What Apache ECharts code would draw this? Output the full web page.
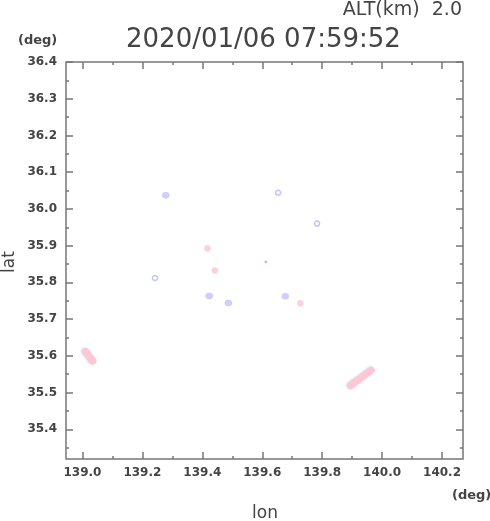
<!DOCTYPE html>
<html><head><meta charset="utf-8">
<script src="https://cdn.jsdelivr.net/npm/echarts@6/dist/echarts.min.js"></script>
<style>html,body{margin:0;padding:0;background:#fff}#c{width:490px;height:521px}</style>
</head><body><div id="c"></div>
<script>
const xTicks = [139.0, 139.2, 139.4, 139.6, 139.8, 140.0, 140.2];
const xMinor = [139.1, 139.3, 139.5, 139.7, 139.9, 140.1];
const yTicks = [35.4, 35.5, 35.6, 35.7, 35.8, 35.9, 36.0, 36.1, 36.2, 36.3, 36.4];
const yMinor = [35.35, 35.45, 35.55, 35.65, 35.75, 35.85, 35.95, 36.05, 36.15, 36.25, 36.35];
// solid blue cells
const blueLon = [139.278, 139.423, 139.487, 139.677];
const blueLat = [36.037, 35.763, 35.744, 35.762];
// hollow blue cells
const ringLon = [139.653, 139.783, 139.242];
const ringLat = [36.044, 35.960, 35.812];
// pink cells
const pinkLon = [139.417, 139.442, 139.727];
const pinkLat = [35.892, 35.832, 35.743];
// elongated pink band (west)
const bandWLon = [139.011, 139.020, 139.030, 139.035];
const bandWLat = [35.612, 35.602, 35.591, 35.586];
// elongated pink band (south-east)
const bandELon = [139.896, 139.915, 139.935, 139.953, 139.964];
const bandELat = [35.519, 35.531, 35.543, 35.554, 35.561];
// tiny magenta cell
const dotLon = [139.612];
const dotLat = [35.856];

const FONT = '"DejaVu Sans"';
const zip = (a, b) => a.map((v, i) => [v, b[i]]);
const xMin = 138.945, xMax = 140.27, yMin = 35.319, yMax = 36.4;
const labelStyle = {color: '#444', fontWeight: 'bold', fontSize: 12, fontFamily: 'DejaVu Sans'};

function axis(kind, pos, ticks, len, labels) {
  const isX = kind === 'x';
  return {type: 'value', position: pos, min: isX ? xMin : yMin, max: isX ? xMax : yMax,
    splitLine: {show: false}, axisLine: {show: false},
    axisTick: {show: true, inside: true, length: len, customValues: ticks, lineStyle: {color: '#777', width: 1.5}},
    axisLabel: labels ? Object.assign({show: true, customValues: ticks, formatter: v => v.toFixed(1), margin: isX ? 8 : 9}, labelStyle) : {show: false}};
}

const chart = echarts.init(document.getElementById('c'));
chart.setOption({
  animation: false,
  grid: {left: 66, top: 62, right: 27, bottom: 62, show: true, borderColor: '#777', borderWidth: 1.5},
  xAxis: [axis('x', 'bottom', xTicks, 7, true), axis('x', 'bottom', xMinor, 3, false), axis('x', 'top', xTicks, 7, false), axis('x', 'top', xMinor, 3, false)],
  yAxis: [axis('y', 'left', yTicks, 7, true), axis('y', 'left', yMinor, 3, false), axis('y', 'right', yTicks, 7, false), axis('y', 'right', yMinor, 3, false)],
  graphic: [
    {type: 'text', x: 462, y: 10, style: {text: 'ALT(km)  2.0', font: '19px ' + FONT, fill: '#444', align: 'right', verticalAlign: 'middle'}},
    {type: 'text', x: 126, y: 40, style: {text: '2020/01/06 07:59:52', font: '26px ' + FONT, fill: '#444', align: 'left', verticalAlign: 'middle'}},
    {type: 'text', x: 18, y: 41, style: {text: '(deg)', font: 'bold 13px ' + FONT, fill: '#444', align: 'left', verticalAlign: 'middle'}},
    {type: 'text', x: 452, y: 496, style: {text: '(deg)', font: 'bold 13px ' + FONT, fill: '#444', align: 'left', verticalAlign: 'middle'}},
    {type: 'text', x: 265, y: 514, style: {text: 'lon', font: '17px ' + FONT, fill: '#444', align: 'center', verticalAlign: 'middle'}},
    {type: 'text', x: 10, y: 262, rotation: Math.PI / 2, style: {text: 'lat', font: '17px ' + FONT, fill: '#444', align: 'center', verticalAlign: 'middle'}}
  ],
  series: [
    {type: 'line', data: zip(bandWLon, bandWLat), showSymbol: false, smooth: true, lineStyle: {color: '#ffc8d0', width: 7, cap: 'round', join: 'round', shadowColor: 'rgba(150,150,255,0.5)', shadowBlur: 2, shadowOffsetX: -1}},
    {type: 'line', data: zip(bandELon, bandELat), showSymbol: false, smooth: true, lineStyle: {color: '#ffc8d0', width: 7, cap: 'round', join: 'round', shadowColor: 'rgba(150,150,255,0.5)', shadowBlur: 2, shadowOffsetX: -1}},
    {type: 'scatter', data: zip(pinkLon, pinkLat), symbolSize: 6, itemStyle: {color: '#ffc6c6', borderColor: '#e8c4ec', borderWidth: 0.5}},
    {type: 'scatter', data: zip(blueLon, blueLat), symbolSize: [7, 6], itemStyle: {color: '#c4c4ff', borderColor: '#b4b4ff', borderWidth: 0.5}},
    {type: 'scatter', data: zip(ringLon, ringLat), symbol: 'circle', symbolSize: 5, itemStyle: {color: 'rgba(255,255,255,0)', borderColor: '#b4b4ff', borderWidth: 1.5}},
    {type: 'scatter', data: zip(dotLon, dotLat), symbolSize: 3, itemStyle: {color: '#d8a0e0'}}
  ]
});
</script></body></html>
